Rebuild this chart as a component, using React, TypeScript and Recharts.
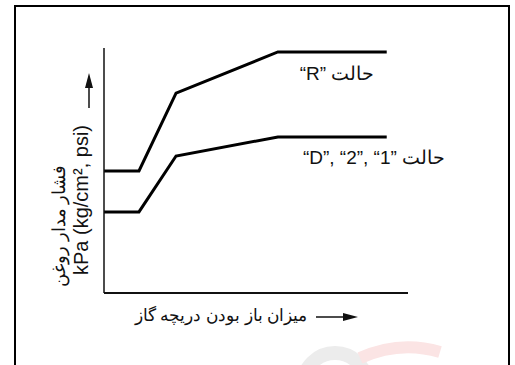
import { LineChart, Line, XAxis, YAxis } from "recharts";

// throttle opening (% of x range) and line pressure (% of y range)
const throttle = [0, 11.5, 23.7, 57.2, 93];
const rangeR = [49.8, 49.8, 81.6, 98.4, 98.4];
const rangeD = [33.1, 33.1, 55.9, 63.7, 63.7];

const labelR = "حالت \u2066“R”\u2069";
const labelD = "حالت \u2066“D”, “2”, “1”\u2069";
const yTitleFa = "فشار مدار روغن";
const yTitleUnit = "kPa (kg/cm², psi)";
const xTitle = "میزان باز بودن دریچه گاز";

const data = throttle.map((t, i) => ({ t, r: rangeR[i], d: rangeD[i] }));

const font = "'Liberation Sans', Arial, sans-serif";

export default function App() {
  return (
    <div style={{ position: "absolute", left: 0, top: 0, width: 515, height: 365, overflow: "hidden", background: "#fff" }}>
      <div
        style={{
          position: "absolute",
          left: 14,
          top: 5,
          width: 496,
          height: 420,
          border: "2px solid #000",
          boxSizing: "border-box"
        }}
      />
      <div style={{ position: "absolute", left: 0, top: 0 }}>
        <LineChart width={515} height={365} data={data} margin={{ top: 48, right: 107, bottom: 62, left: 94 }}>
          <XAxis
            dataKey="t"
            type="number"
            domain={[0, 100]}
            tick={false}
            tickLine={false}
            height={10}
            axisLine={{ stroke: "#111", strokeWidth: 2 }}
          />
          <YAxis
            type="number"
            domain={[0, 100]}
            tick={false}
            tickLine={false}
            width={10}
            axisLine={{ stroke: "#111", strokeWidth: 1.5 }}
          />
          <Line dataKey="r" type="linear" stroke="#000" strokeWidth={3} dot={false} isAnimationActive={false} />
          <Line dataKey="d" type="linear" stroke="#000" strokeWidth={3} dot={false} isAnimationActive={false} />
        </LineChart>
      </div>
      <svg
        width={515}
        height={365}
        style={{ position: "absolute", left: 0, top: 0, pointerEvents: "none" }}
        fontFamily={font}
      >
        {/* watermark */}
        <circle cx={335} cy={385} r={32} fill="none" stroke="#ececec" strokeWidth={14} />
        <path d="M 360 358 Q 400 340 440 352" fill="none" stroke="#fbe4e4" strokeWidth={12} />

        <text x={337} y={80} fontSize={19} textAnchor="middle" direction="rtl" fill="#111">
          {labelR}
        </text>
        <text x={374} y={164} fontSize={19} textAnchor="middle" direction="rtl" fill="#111">
          {labelD}
        </text>

        <text x={0} y={0} fontSize={17.5} textAnchor="middle" fill="#111" transform="translate(65 226) rotate(-90)">
          {yTitleFa}
        </text>
        <text x={0} y={0} fontSize={20} textAnchor="middle" fill="#111" transform="translate(88 200) rotate(-90)">
          {yTitleUnit}
        </text>
        <line x1={89} y1={108} x2={89} y2={86} stroke="#111" strokeWidth={1.5} />
        <polygon points="89,73 85,88 93,88" fill="#111" />

        <text x={221} y={321} fontSize={17} textAnchor="middle" fill="#111">
          {xTitle}
        </text>
        <line x1={316} y1={317} x2={346} y2={317} stroke="#111" strokeWidth={1.5} />
        <polygon points="358,317 343,313 343,321" fill="#111" />
      </svg>
    </div>
  );
}
